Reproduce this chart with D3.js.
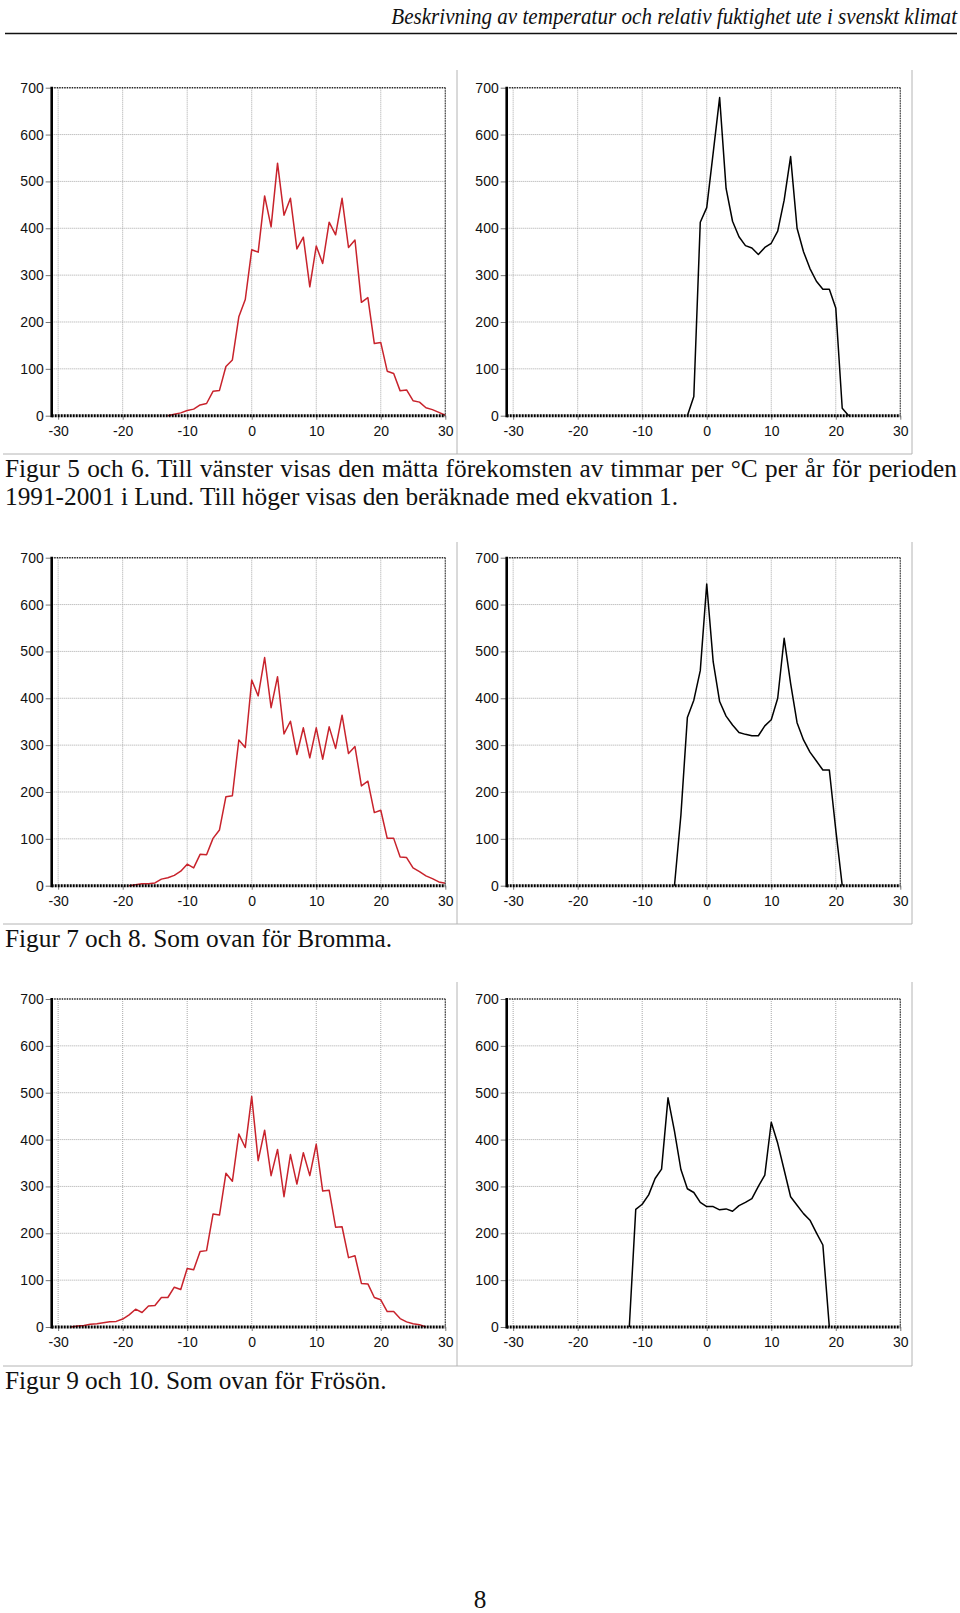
<!DOCTYPE html>
<html>
<head>
<meta charset="utf-8">
<script src="https://cdn.jsdelivr.net/npm/d3@7"></script>
<style>
  body { margin: 0; background: #fff; }
  svg { display: block; }
  .tick text { font-family: "Liberation Sans", Arial, sans-serif; font-size: 14px; fill: #111; }
  .tick line { stroke: #777; }
  .cap { font-family: "Liberation Serif", "Times New Roman", serif; font-size: 25.3px; fill: #111; }
</style>
</head>
<body>
<div id="page"></div>
<script>
// temperature categories (°C)
var temps = [-31, -30, -29, -28, -27, -26, -25, -24, -23, -22, -21, -20, -19, -18, -17, -16,
  -15, -14, -13, -12, -11, -10, -9, -8, -7, -6, -5, -4, -3, -2, -1, 0, 1, 2, 3, 4, 5, 6, 7,
  8, 9, 10, 11, 12, 13, 14, 15, 16, 17, 18, 19, 20, 21, 22, 23, 24, 25, 26, 27, 28, 29, 30];
var xTicks = [-30, -20, -10, 0, 10, 20, 30];
var yTicks = [0, 100, 200, 300, 400, 500, 600, 700];

// hours per °C and year, each series starts at the given temperature
var lundMeasStart = -13;
var lundMeas = [0, 3, 6, 11, 14, 23, 26, 52, 54, 105, 119, 211, 248, 354, 349, 469, 403, 539,
  428, 464, 356, 381, 275, 362, 325, 413, 386, 464, 359, 375, 242, 252, 154, 156, 95, 90,
  53, 55, 32, 29, 17, 13, 7, 1];
var lundCalcStart = -3;
var lundCalc = [0, 41, 413, 444, 561, 679, 485, 415, 382, 363, 358, 344, 359, 368, 394, 460,
  553, 400, 350, 314, 287, 270, 270, 230, 16, 0];
var brommaMeasStart = -19;
var brommaMeas = [0, 2, 4, 4, 6, 14, 17, 22, 31, 46, 38, 67, 66, 101, 119, 190, 192, 311, 295,
  439, 405, 487, 380, 446, 324, 351, 280, 337, 273, 337, 270, 339, 293, 364, 282, 297, 213,
  223, 156, 161, 101, 101, 61, 60, 38, 30, 21, 15, 8, 5];
var brommaCalcStart = -5;
var brommaCalc = [0, 151, 359, 396, 459, 644, 478, 393, 362, 343, 327, 323, 320, 320, 341,
  354, 400, 528, 432, 348, 311, 285, 266, 247, 247, 119, 0];
var frosonMeasStart = -28;
var frosonMeas = [0, 2, 3, 6, 7, 9, 11, 12, 17, 26, 38, 31, 45, 46, 63, 63, 85, 80, 125, 122,
  161, 163, 241, 239, 328, 311, 412, 383, 492, 355, 420, 323, 379, 278, 368, 305, 372, 323,
  390, 290, 292, 213, 214, 148, 152, 93, 92, 63, 58, 33, 33, 18, 11, 7, 5, 0];
var frosonCalcStart = -12;
var frosonCalc = [0, 251, 262, 282, 317, 337, 489, 418, 336, 295, 287, 266, 257, 257, 250, 252,
  247, 259, 266, 274, 300, 324, 437, 392, 335, 278, 260, 242, 228, 201, 175, 0];

var header = "Beskrivning av temperatur och relativ fuktighet ute i svenskt klimat";
var captions = [
  ["Figur 5 och 6. Till vänster visas den mätta förekomsten av timmar per °C per år för perioden",
   "1991-2001 i Lund. Till höger visas den beräknade med ekvation 1."],
  ["Figur 7 och 8. Som ovan för Bromma."],
  ["Figur 9 och 10. Som ovan för Frösön."]
];
var pageNo = "8";

var width = 960, height = 1613;
var plotW = 393.6, plotH = 328;
var colX = [51.7, 506.7];
var rowY = [87.7, 557.7, 999];
var frameTop = [70, 542, 982], frameBottom = [454, 924, 1366];
var red = "#c8232c";

var svg = d3.select("#page").append("svg")
    .attr("width", width)
    .attr("height", height);
svg.append("rect").attr("width", width).attr("height", height).attr("fill", "#fff");

var x = d3.scaleLinear().domain([-31, 30]).range([0, plotW]);
var y = d3.scaleLinear().domain([0, 700]).range([plotH, 0]);
var fmt = function(d) { return String(d); }; // plain hyphen, like the original

function series(start, vals) {
  var i0 = temps.indexOf(start);
  return vals.map(function(v, i) { return [temps[i0 + i], v]; });
}

function drawPanel(left, top, data, color) {
  var g = svg.append("g").attr("transform", "translate(" + left + "," + top + ")");

  // dotted grid
  g.selectAll(".vgrid").data(xTicks).enter().append("line")
      .attr("x1", d => x(d)).attr("x2", d => x(d))
      .attr("y1", 0).attr("y2", plotH)
      .attr("stroke", "#a8a8a8").attr("stroke-dasharray", "1,1");
  g.selectAll(".hgrid").data(yTicks.slice(1, -1)).enter().append("line")
      .attr("x1", 0).attr("x2", plotW)
      .attr("y1", d => y(d)).attr("y2", d => y(d))
      .attr("stroke", "#a8a8a8").attr("stroke-dasharray", "1,1");

  g.append("path")
      .datum(data)
      .attr("fill", "none")
      .attr("stroke", color)
      .attr("stroke-width", 1.5)
      .attr("stroke-linejoin", "round")
      .attr("d", d3.line().x(d => x(d[0])).y(d => y(d[1])));

  // frame: top and right dotted, left solid, bottom heavy dotted
  g.append("line").attr("x1", 0).attr("x2", plotW).attr("y1", 0).attr("y2", 0)
      .attr("stroke", "#222").attr("stroke-width", 1.5).attr("stroke-dasharray", "1.5,1");
  g.append("line").attr("x1", plotW).attr("x2", plotW).attr("y1", 0).attr("y2", plotH)
      .attr("stroke", "#444").attr("stroke-width", 1.2).attr("stroke-dasharray", "1.5,1");

  var ya = g.append("g")
      .call(d3.axisLeft(y).tickValues(yTicks).tickSize(6).tickPadding(2).tickFormat(fmt));
  ya.select(".domain").remove();
  var xa = g.append("g").attr("transform", "translate(0," + plotH + ")")
      .call(d3.axisBottom(x).tickValues(xTicks).tickSize(4).tickPadding(6).tickFormat(fmt));
  xa.select(".domain").remove();

  g.append("line").attr("x1", 0).attr("x2", plotW).attr("y1", plotH).attr("y2", plotH)
      .attr("stroke", "#000").attr("stroke-width", 3).attr("stroke-dasharray", "2,1");
  g.append("line").attr("x1", 0).attr("x2", 0).attr("y1", -1).attr("y2", plotH + 1.5)
      .attr("stroke", "#000").attr("stroke-width", 2.6);
}

var panels = [
  [series(lundMeasStart, lundMeas), series(lundCalcStart, lundCalc)],
  [series(brommaMeasStart, brommaMeas), series(brommaCalcStart, brommaCalc)],
  [series(frosonMeasStart, frosonMeas), series(frosonCalcStart, frosonCalc)]
];

panels.forEach(function(row, r) {
  drawPanel(colX[0], rowY[r], row[0], red);
  drawPanel(colX[1], rowY[r], row[1], "#000");

  // light image borders around each pair of charts
  [457, 912].forEach(function(vx) {
    svg.append("line").attr("x1", vx).attr("x2", vx)
        .attr("y1", frameTop[r]).attr("y2", frameBottom[r])
        .attr("stroke", "#b4b4b4").attr("stroke-width", 1);
  });
  svg.append("line").attr("x1", 3).attr("x2", 912)
      .attr("y1", frameBottom[r]).attr("y2", frameBottom[r])
      .attr("stroke", "#b4b4b4").attr("stroke-width", 1);

  captions[r].forEach(function(line, k) {
    var t = svg.append("text").attr("class", "cap")
        .attr("x", 5).attr("y", frameBottom[r] + 23 + k * 28)
        .text(line);
    if (r === 0 && k === 0) {
      // first line is justified to the text block
      var spaces = line.split(" ").length - 1;
      var extra = (952 - t.node().getComputedTextLength()) / spaces;
      t.attr("word-spacing", extra);
    }
  });
});

// running header, a narrow italic squeezed to its width with a horizontal scale
var hg = svg.append("g");
var ht = hg.append("text")
    .attr("x", 0).attr("y", 0)
    .attr("text-anchor", "end")
    .attr("font-family", "Liberation Serif, Times New Roman, serif")
    .attr("font-style", "italic")
    .attr("font-size", 23)
    .attr("fill", "#111")
    .text(header);
var hs = 566 / ht.node().getComputedTextLength();
hg.attr("transform", "translate(957,24) scale(" + hs + ",1)");
svg.append("line").attr("x1", 5).attr("x2", 957).attr("y1", 33.5).attr("y2", 33.5)
    .attr("stroke", "#111").attr("stroke-width", 1.5);

svg.append("text").attr("class", "cap")
    .attr("x", 480).attr("y", 1608)
    .attr("text-anchor", "middle")
    .text(pageNo);
</script>
</body>
</html>
